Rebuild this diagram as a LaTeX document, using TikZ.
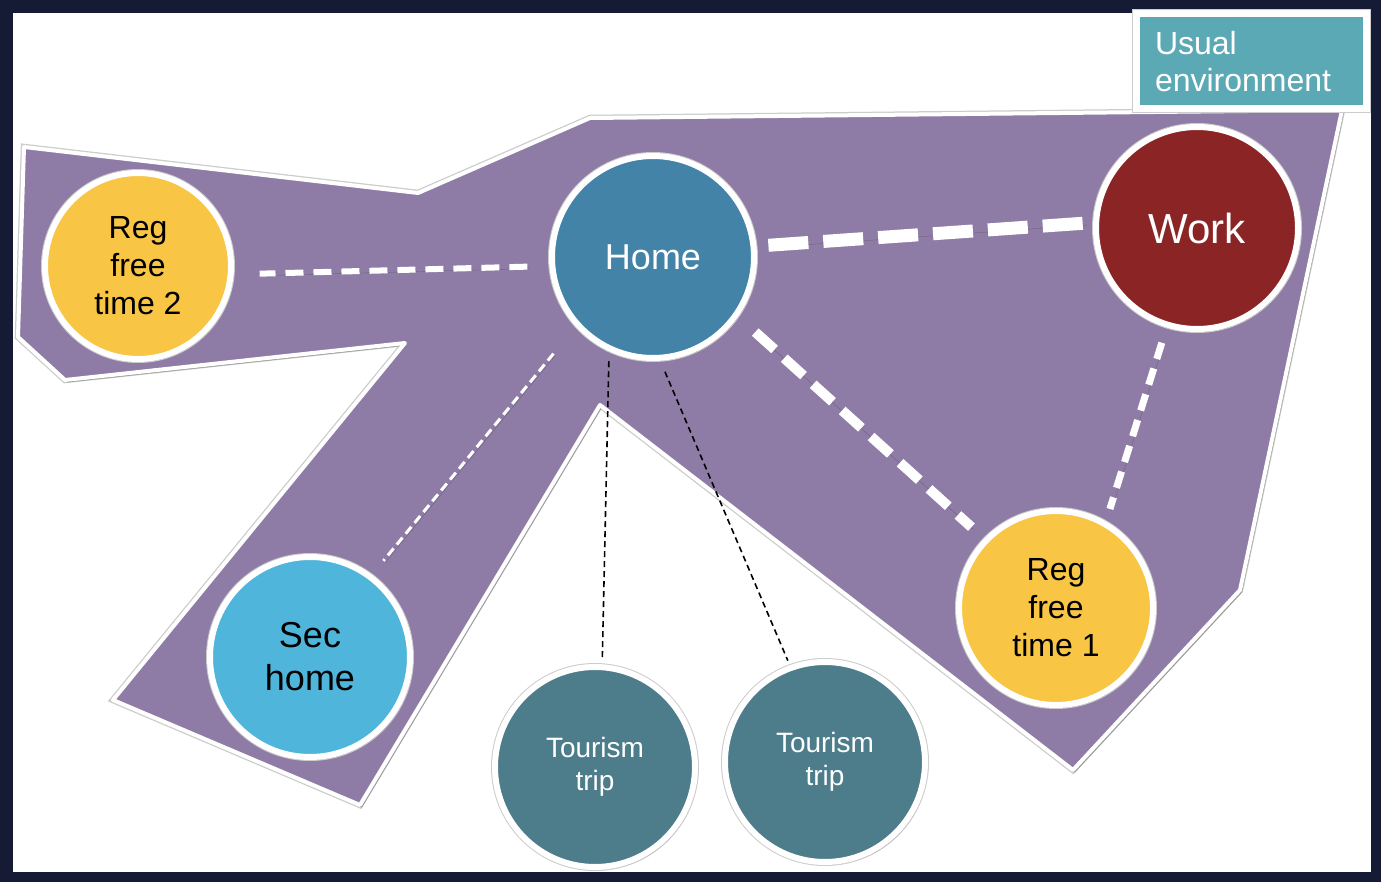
\documentclass[tikz,border=0pt]{standalone}
\usepackage{fontspec}
\setmainfont{Liberation Sans}
\usetikzlibrary{shadows}
\definecolor{framec}{HTML}{151A35}
\definecolor{purp}{HTML}{8E7CA6}
\definecolor{yel}{HTML}{F8C545}
\definecolor{homec}{HTML}{4283A7}
\definecolor{workc}{HTML}{8B2525}
\definecolor{secc}{HTML}{4FB5DB}
\definecolor{tourc}{HTML}{4D7C8B}
\definecolor{boxc}{HTML}{5BA9B5}
\begin{document}
\begin{tikzpicture}[x=1pt,y=-1pt,
  shad/.style={drop shadow={shadow xshift=2pt, shadow yshift=-2.5pt, opacity=0.25, fill=black}},
  halo/.style={preaction={draw=black!20, line width=#1}},
  bub/.style={circle, halo=8pt, draw=white, line width=6pt, inner sep=0pt, outer sep=3pt, align=center, shad},
  wdash/.style={draw=white, preaction={draw=black, opacity=0.22, transform canvas={shift={(1.5pt,-2pt)}}}},
  bdash/.style={draw=black, line width=1.6pt, dash pattern=on 6pt off 4pt},
  txt32/.style={font=\fontsize{32}{38}\selectfont},
]
\fill[framec] (0,0) rectangle (1381,882);
\fill[white] (13,13) rectangle (1371,872);
\useasboundingbox (0,0) rectangle (1381,882);

% usual environment region
\filldraw[fill=purp, draw=white, line width=4pt, line join=round, halo=6.5pt, shad]
  (24,147) -- (418,193) -- (590,118) -- (1342,110) -- (1240,590) -- (1073,770)
  -- (600,405) -- (360,805) -- (113,700) -- (405,343) -- (65,380) -- (18,337) -- cycle;

% nodes
\node[bub, fill=yel, minimum size=186pt, txt32, text=black] (rf2) at (138,266) {Reg\\free\\time 2};
\node[bub, fill=homec, minimum size=202pt, text=white, font=\fontsize{36}{42}\selectfont] (home) at (653,257) {Home};
\node[bub, fill=workc, minimum size=202pt, text=white, font=\fontsize{42}{48}\selectfont] (work) at (1197,228) {Work};
\node[bub, fill=yel, minimum size=194pt, txt32, text=black] (rf1) at (1056,608) {Reg\\free\\time 1};
\node[bub, fill=secc, minimum size=200pt, text=black, font=\fontsize{36}{43}\selectfont] (sec) at (310,657) {Sec\\home};
\node[bub, fill=tourc, minimum size=200pt, text=white, font=\fontsize{28}{33}\selectfont] (t1) at (595,767) {Tourism\\trip};
\node[bub, fill=tourc, minimum size=200pt, text=white, font=\fontsize{28}{33}\selectfont] (t2) at (825,762) {Tourism\\trip};

% connectors
\draw[wdash, line width=6pt, dash pattern=on 18pt off 10pt, shorten <=22pt, shorten >=26pt] (home.185) -- (rf2.355);
\draw[wdash, line width=13pt, dash pattern=on 40pt off 15pt, shorten <=12pt, shorten >=8pt] (home.6) -- (work.177);
\draw[wdash, line width=10pt, dash pattern=on 26pt off 13pt, shorten <=23pt, shorten >=17pt] (home.325) -- (rf1.136);
\draw[wdash, line width=7pt, dash pattern=on 17pt off 10pt, shorten <=16pt, shorten >=13pt] (work.253.5) -- (rf1.60);
\draw[wdash, line width=3pt, dash pattern=on 9pt off 5pt, shorten <=35pt, shorten >=18pt] (home.222) -- (sec.53);
\draw[bdash, shorten <=10pt, shorten >=4pt] (home.245) -- (t1.86);
\draw[bdash, shorten <=12pt, shorten >=5pt] (home.274.4) -- (t2.110);

% label box
\node[fill=boxc, halo=9pt, draw=white, line width=7pt, minimum width=230pt, minimum height=94.5pt,
  inner xsep=18pt, text width=193pt, align=left, text=white,
  font=\fontsize{32}{37}\selectfont, shad] (ue) at (1251.5,61.25) {Usual\\environment};
\end{tikzpicture}
\end{document}
